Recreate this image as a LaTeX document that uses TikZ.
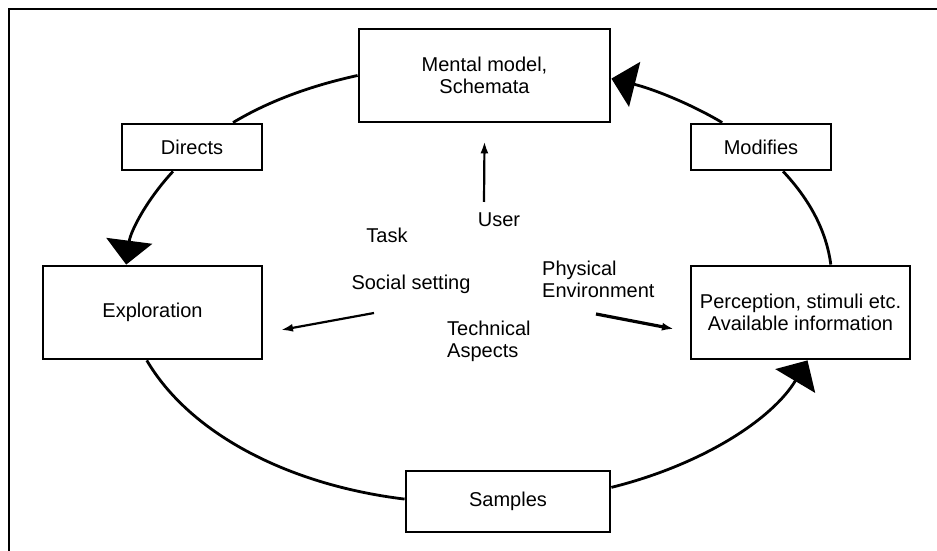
\documentclass[tikz,border=0pt]{standalone}
\usepackage{fontspec}
\setmainfont{Liberation Sans}
\usetikzlibrary{arrows.meta}
\begin{document}
\begin{tikzpicture}[x=1pt,y=1pt,
  txt/.style={font=\fontsize{20}{22}\selectfont, inner sep=0pt},
  box/.style={txt, draw, line width=2.8pt, fill=white, align=center},
  lbl/.style={txt, align=left},
  loopline/.style={line width=2.8pt},
  bigtip/.style={-{Triangle[length=24pt,width=46pt]}},
  smalltip/.style={-{Latex[length=12pt,width=8pt]}}]
\useasboundingbox (0,0) rectangle (937,551);
% outer frame (only the top and left edges fall on the page)
\draw[line width=2pt] (9,-20) -- (9,542) -- (960,542);

% boxes of the cycle
\node[box, minimum width=251pt, minimum height=93pt] (mental)   at (484.5,475.5) {Mental model,\\Schemata};
\node[box, minimum width=140pt, minimum height=46pt] (directs)  at (192,404)     {Directs};
\node[box, minimum width=140pt, minimum height=46pt] (modifies) at (761,404)     {Modifies};
\node[box, minimum width=219pt, minimum height=93pt] (explor)   at (152.5,238.5) {Exploration};
\node[box, minimum width=219pt, minimum height=93pt] (percep)   at (800.5,238.5) {Perception, stimuli etc.\\Available information};
\node[box, minimum width=204pt, minimum height=61pt] (samples)  at (508,49.5)    {Samples};

% the cycle, as elliptical arcs between the boxes
\draw[loopline] (mental.west)
  .. controls +(-46.7,-10.2) and +(35.9,21.6) .. ([xshift=41pt]directs.north);
\draw[loopline, bigtip] ([xshift=-19pt]directs.south)
  .. controls +(-26.6,-28.7) and +(4.3,33.2) .. ([xshift=-26.3pt]explor.north);
\draw[loopline] ([xshift=-5.7pt]explor.south)
  .. controls +(42.2,-72.0) and +(-118.3,14.4) .. ([yshift=2.4pt]samples.west);
\draw[loopline, bigtip] ([yshift=14.1pt]samples.east)
  .. controls +(92.1,23.0) and +(-34.7,-58.2) .. ([xshift=7pt]percep.south);
\draw[loopline] ([xshift=30.3pt]percep.north)
  .. controls +(-4.3,33.2) and +(27.0,-28.7) .. ([xshift=22.1pt]modifies.south);
\draw[loopline, bigtip] ([xshift=-38.8pt]modifies.north)
  .. controls +(-32.3,19.2) and +(41.3,-10.3) .. ([yshift=-3.1pt]mental.east);

% factors in the middle
\node[txt] (user)   at (499,331) {User};
\node[txt] (task)   at (387,316) {Task};
\node[txt] (social) at (411,267) {Social setting};
\node[lbl, anchor=west] (phys) at (542,272) {Physical\\Environment};
\node[lbl, anchor=west] (tech) at (447,210) {Technical\\Aspects};

% short arrows from the middle
\coordinate (userfrom) at (484,349);
\coordinate (userto)   at ([yshift=-18pt]mental.south);
\coordinate (leftfrom) at (374,238);
\coordinate (leftto)   at (281,221);
\coordinate (rightfrom) at (596,237);
\coordinate (rightto)   at (674,222);
\draw[line width=2.2pt, smalltip] (userfrom) -- (userto);
\draw[line width=2.2pt, smalltip] (leftfrom) -- (leftto);
\draw[line width=3.2pt, smalltip] (rightfrom) -- (rightto);
\end{tikzpicture}
\end{document}
